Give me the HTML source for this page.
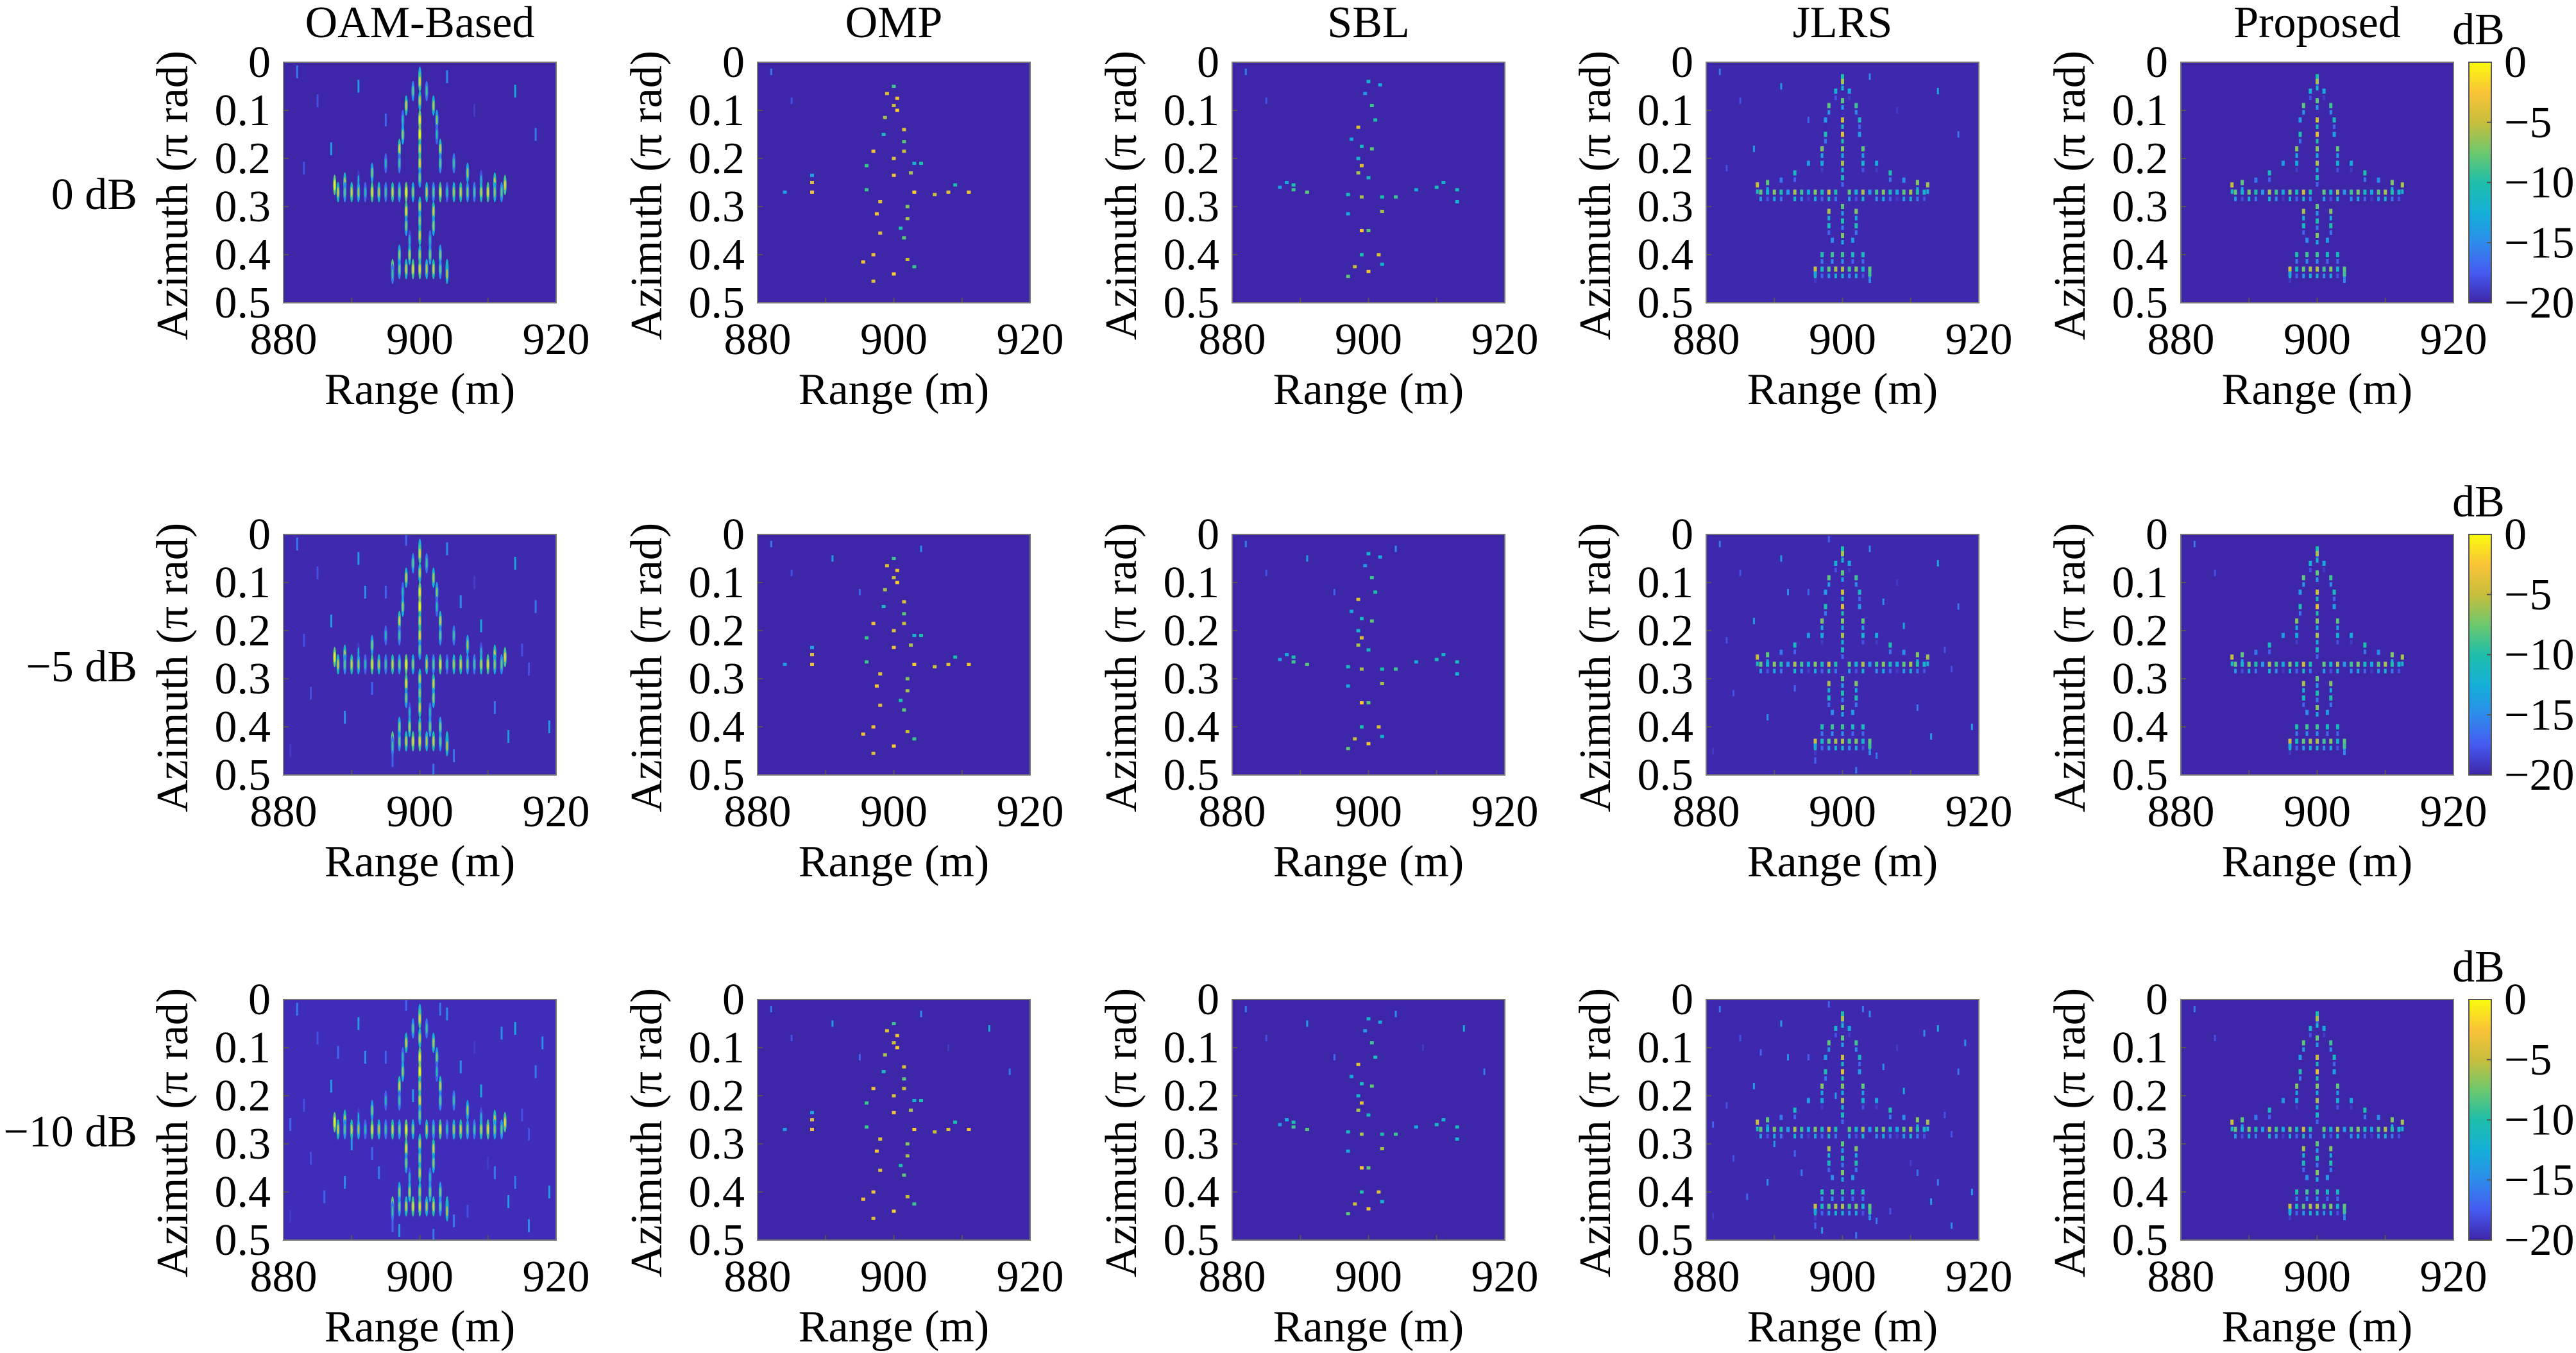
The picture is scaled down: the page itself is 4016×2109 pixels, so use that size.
<!DOCTYPE html>
<html><head><meta charset="utf-8">
<style>
html,body{margin:0;padding:0;background:#fff;}
svg{display:block;}
text{font-family:"Liberation Serif",serif;fill:#000;}
</style></head>
<body>
<svg id="fig" width="4016" height="2109" viewBox="0 0 4016 2109" xmlns="http://www.w3.org/2000/svg"></svg>
<script>
// ---- data ----
const methods = ["OAM-Based","OMP","SBL","JLRS","Proposed"];
const snrLabels = ["0 dB","\u22125 dB","\u221210 dB"];
const xTickLabels = [880,900,920];
const xMinorTicks = [890,900,910];
const yTickLabels = [0,0.1,0.2,0.3,0.4,0.5];
const cbTickLabels = [0,-5,-10,-15,-20];
// airplane scatterers (range m, azimuth pi rad, dB)
const planeR  = [900,900,900,900,900,900,900,900,900,900,900,900,900,
  899,898,897.5,897.5,897,897,898,898,898.5,898.5,
  901,902,902.5,902.5,903,903,902,902,901.5,901.5,
  895,893,891,889,887.5,905,907,909,911,912.5,
  888,889,890,891,892,893,894,895,896,897,898,899,901,902,903,904,905,906,907,908,909,910,911,912,
  896,897,898,899,901,902,903,904,897,903,896,904];
const planeAz = [0.03,0.04,0.08,0.12,0.15,0.18,0.21,0.24,0.30,0.33,0.36,0.40,0.43,
  0.06,0.09,0.12,0.15,0.18,0.21,0.31,0.34,0.37,0.40,
  0.06,0.09,0.12,0.15,0.18,0.21,0.31,0.34,0.37,0.40,
  0.21,0.23,0.245,0.25,0.255,0.21,0.23,0.245,0.25,0.255,
  0.27,0.27,0.27,0.27,0.27,0.27,0.27,0.27,0.27,0.27,0.27,0.27,0.27,0.27,0.27,0.27,0.27,0.27,0.27,0.27,0.27,0.27,0.27,0.27,
  0.43,0.43,0.43,0.43,0.43,0.43,0.43,0.43,0.40,0.40,0.44,0.44];
const planeDb = [-8,-4,-6,-3,-2,-5,-4,-9,-6,-8,-5,-7,-4,
  -10,-6,-12,-8,-5,-11,-4,-9,-13,-7,
  -11,-7,-9,-12,-6,-10,-5,-8,-12,-9,
  -12,-9,-14,-6,-3,-11,-8,-13,-5,-4,
  -6,-10,-5,-8,-12,-4,-7,-11,-5,-9,-3,-8,-6,-10,-4,-12,-7,-5,-9,-11,-6,-4,-8,-10,
  -3,-9,-6,-4,-7,-5,-10,-6,-8,-9,-11,-7];
const ompR  = [900,899,900.5,900,900.5,898.7,901.5,898.5,901.5,897,901.5,900,896,903,904,900,902.5,888,888,896,884,888,903,906,908,911,909,898,902,897.5,902,901,898,901.5,897,902,895.5,903,900,897];
const ompAz = [0.05,0.065,0.075,0.09,0.10,0.115,0.14,0.15,0.165,0.185,0.185,0.2,0.215,0.21,0.21,0.235,0.23,0.235,0.25,0.265,0.27,0.27,0.27,0.275,0.27,0.27,0.255,0.29,0.3,0.315,0.325,0.345,0.355,0.365,0.4,0.41,0.415,0.425,0.44,0.455];
const ompDb = [-9,-4,-3,-5,-2,-6,-4,-11,-8,-3,-5,-4,-9,-12,-10,-3,-6,-13,-4,-9,-14,-3,-2,-5,-4,-3,-10,-4,-7,-3,-6,-10,-4,-8,-3,-5,-3,-9,-2,-4];
const sblR  = [900,901.7,899.5,900.5,901,898.5,897.5,899,900.5,898.5,899,898.5,900,888,889,911,913,887,889,891,897,899,902,904,907,910,913,897,902,899,900,899,901.5,898,902,900,897];
const sblAz = [0.04,0.047,0.065,0.09,0.12,0.135,0.16,0.175,0.18,0.2,0.215,0.23,0.24,0.25,0.255,0.25,0.265,0.26,0.265,0.27,0.275,0.28,0.28,0.28,0.265,0.26,0.29,0.315,0.31,0.35,0.35,0.4,0.4,0.425,0.42,0.435,0.445];
const sblDb = [-12,-13,-14,-9,-10,-4,-13,-11,-8,-12,-4,-6,-11,-13,-10,-12,-11,-14,-9,-8,-11,-6,-10,-9,-13,-11,-12,-13,-6,-3,-8,-10,-4,-5,-12,-3,-8];
const noiseR  = [882,885,891,895,904,908,914,917,883,887,893,906,911,916,919,881,889,896,905,913,884,892,898,902,909,915,918,886,890,894,907,912,881,897,903,910,916,888,899,914];
const noiseAz = [0.02,0.08,0.05,0.12,0.03,0.10,0.06,0.15,0.22,0.18,0.32,0.14,0.36,0.28,0.40,0.45,0.38,0.47,0.46,0.42,0.33,0.12,0.01,0.49,0.19,0.24,0.09,0.41,0.30,0.36,0.44,0.07,0.26,0.48,0.02,0.34,0.47,0.11,0.20,0.38];
const noiseDb = [-14,-16,-12,-15,-13,-17,-11,-14,-16,-12,-15,-13,-14,-16,-12,-17,-13,-15,-14,-12,-16,-13,-15,-14,-11,-16,-13,-15,-12,-14,-16,-13,-15,-12,-14,-17,-13,-15,-12,-14];
const noisePerRow = [10,26,40];
// ---- layout ----
const colLeft = [442,1181,1921,2660,3400];
const rowTop = [97,833,1558];
const PW = 425, PH = 375;
const FS = 70;
const svg = document.getElementById('fig');
const NS = 'http://www.w3.org/2000/svg';
function mk(tag, attrs, parent){const e=document.createElementNS(NS,tag);for(const k in attrs)e.setAttribute(k,attrs[k]);(parent||svg).appendChild(e);return e;}
function parula(t){
  const s=[[0,62,38,168],[0.125,70,90,240],[0.25,45,140,235],[0.375,20,175,215],[0.5,30,190,170],[0.625,110,200,110],[0.75,200,190,60],[0.875,250,195,55],[1,249,251,14]];
  t=Math.max(0,Math.min(1,t));
  for(let i=1;i<s.length;i++){if(t<=s[i][0]){const a=s[i-1],b=s[i],f=(t-a[0])/(b[0]-a[0]);return `rgb(${Math.round(a[1]+f*(b[1]-a[1]))},${Math.round(a[2]+f*(b[2]-a[2]))},${Math.round(a[3]+f*(b[3]-a[3]))})`;}}
  return 'rgb(249,251,14)';
}
function dbColor(db){return parula((db+20)/20);}
const defs = mk('defs',{});
// ---- panels ----
for(let r=0;r<3;r++){
  const rl = mk('text',{x:214,y:rowTop[r]+229,'font-size':FS,'text-anchor':'end'});
  
  
  rl.textContent=snrLabels[r];
  for(let c=0;c<5;c++){
    const L=colLeft[c], T=rowTop[r];
    const xs = v => L + (v-880)/40*PW;
    const ys = v => T + v/0.5*PH;
    const g = mk('g',{});
    
    
    const cp = mk('clipPath',{id:'cp'+r+c},defs);
    mk('rect',{x:L,y:T,width:PW,height:PH},cp);
    const inner = mk('g',{'clip-path':`url(#cp${r}${c})`},g);
    const bg = mk('rect',{x:L,y:T,width:PW,height:PH,fill:(c===0&&r===2)?'rgb(63,45,185)':(c===0&&r===1)?'rgb(62,41,175)':(c===3)?'rgb(62,41,174)':'rgb(62,38,168)'},inner);
    
    
    const nN = (c===0||c===3)?noisePerRow[r]:(c===1||c===2)?Math.round(noisePerRow[r]/5):(r===0?0:2);
    for(let i=0;i<nN;i++){
      const m = mk('rect',{x:xs(noiseR[i])-1.5,y:ys(noiseAz[i])-(c===0?10:5),width:3,height:c===0?20:10,fill:dbColor(noiseDb[i]-2)},inner);
      
      
    }
    if(c===0){
      for(let i=0;i<planeR.length;i++){
        const m = mk('ellipse',{cx:xs(planeR[i]),cy:ys(planeAz[i]),rx:2.5,ry:16,fill:dbColor(planeDb[i]-5)},inner);
        
        
        const k = mk('ellipse',{cx:xs(planeR[i]),cy:ys(planeAz[i]),rx:1.3,ry:8,fill:dbColor(planeDb[i]+2)},inner);
        
        
      }
    } else if(c===1||c===2){
      const R = c===1?ompR:sblR, A=c===1?ompAz:sblAz, D=c===1?ompDb:sblDb;
      for(let i=0;i<R.length;i++){
        const m = mk('rect',{x:xs(R[i])-3,y:ys(A[i])-2.5,width:6,height:5,fill:dbColor(D[i])},inner);
        
        
      }
    } else {
      for(let i=0;i<planeR.length;i++){
        const m = mk('rect',{x:xs(planeR[i])-2.5,y:ys(planeAz[i])-4,width:5,height:8,fill:dbColor(planeDb[i]-2)},inner);
        
        
        const m2 = mk('rect',{x:xs(planeR[i])-2,y:ys(planeAz[i])+7,width:4,height:7,fill:dbColor(planeDb[i]-8)},inner);
        
        
      }
    }
    // ticks
    xMinorTicks.forEach(v=>{const t=mk('line',{x1:xs(v),x2:xs(v),y1:T+PH,y2:T+PH-8,stroke:'#555','stroke-width':2},g);
      });
    yTickLabels.forEach(v=>{const t=mk('line',{x1:L,x2:L+8,y1:ys(v),y2:ys(v),stroke:'#555','stroke-width':2},g);
      });
    const bx = mk('rect',{x:L,y:T,width:PW,height:PH,fill:'none',stroke:'#777','stroke-width':2},g);
    
    
    // tick labels
    xTickLabels.forEach(v=>{const t=mk('text',{x:xs(v),y:T+PH+80,'font-size':FS,'text-anchor':'middle'});
      t.textContent=v;});
    yTickLabels.forEach(v=>{const t=mk('text',{x:L-20,y:ys(v)+23,'font-size':FS,'text-anchor':'end'});
      t.textContent=v===0?'0':v.toFixed(1);});
    const xl = mk('text',{x:L+PW/2,y:T+PH+158,'font-size':FS,'text-anchor':'middle'});
    
    
    xl.textContent='Range (m)';
    const yl = mk('text',{x:0,y:0,'font-size':FS,'text-anchor':'middle',transform:`translate(${L-150},${T+PH/2+20}) rotate(-90)`});
    
    
    yl.textContent='Azimuth (\u03c0 rad)';
    if(r===0){
      const ti = mk('text',{x:L+PW/2,y:T-39,'font-size':FS,'text-anchor':'middle'});
      
      
      ti.textContent=methods[c];
    }
  }
  // colorbar
  const CX=3849, CW=35, T=rowTop[r];
  const gid='cbg'+r;
  const lg = mk('linearGradient',{id:gid,x1:0,y1:1,x2:0,y2:0},defs);
  for(let k=0;k<=16;k++){mk('stop',{offset:k/16,'stop-color':parula(k/16)},lg);}
  const cb = mk('rect',{x:CX,y:T,width:CW,height:PH,fill:`url(#${gid})`,stroke:'#555','stroke-width':2});
  
  
  cbTickLabels.forEach(v=>{
    const y = T + (0-v)/20*PH;
    const tk = mk('line',{x1:CX+CW-7,x2:CX+CW,y1:y,y2:y,stroke:'#555','stroke-width':2});
    
    
    const t = mk('text',{x:3904,y:y+23,'font-size':FS,'text-anchor':'start'});
    
    
    t.textContent = v===0?'0':'\u2212'+Math.abs(v);
  });
  const db = mk('text',{x:3864,y:T-28,'font-size':FS,'text-anchor':'middle'});
  
  
  db.textContent='dB';
}
</script>
</body></html>
